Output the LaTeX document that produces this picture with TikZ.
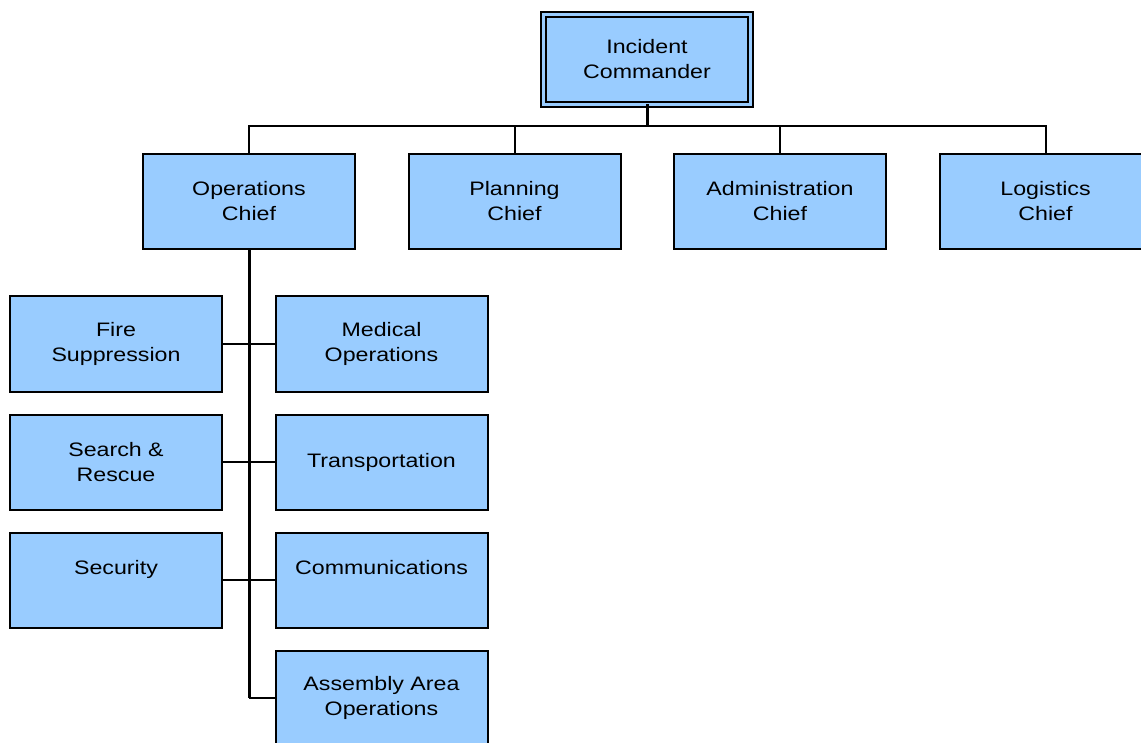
\documentclass[tikz,border=0pt]{standalone}
\usepackage{fontspec}
\setmainfont{Liberation Sans}[FakeStretch=1.19]
\usetikzlibrary{positioning}
\definecolor{boxblue}{HTML}{99CCFF}

\begin{document}
\begin{tikzpicture}[x=1pt, y=1pt,
    box/.style={draw, fill=boxblue, line width=2pt, minimum width=212pt,
      minimum height=95pt, inner sep=0pt, outer sep=0pt, align=center,
      font=\fontsize{19.5}{25}\selectfont},
    link/.style={line width=2pt},
    trunk/.style={line width=3pt}]
      \useasboundingbox (0,0) rectangle (1141,-743);
      \node (IC) [box, double=boxblue, double distance=3pt, line width=1.8pt,
        minimum width=207pt, minimum height=90pt] at (647,-59.5) {Incident\\Commander};
      \node (OC) [box] at (249,-201.5) {Operations\\Chief};
      \node (PC) [box, right=53.5pt of OC] {Planning\\Chief};
      \node (AC) [box, right=53.5pt of PC] {Administration\\Chief};
      \node (LC) [box, right=53.5pt of AC] {Logistics\\Chief};
      \node (FS) [box] at (116,-344) {Fire\\Suppression};
      \node (MO) [box] at (381.5,-344) {Medical\\Operations};
      \node (SR) [box, below=23pt of FS] {Search \&\\Rescue};
      \node (TR) [box, below=23pt of MO] {Transportation};
      \node (SE) [box, below=23pt of SR] {Security\\\mbox{}};
      \node (CO) [box, below=23pt of TR] {Communications\\\mbox{}};
      \node (AA) [box, below=23pt of CO] {Assembly Area\\Operations};
      \coordinate (bus) at (647,-126);
      \draw[trunk] (IC.south) to (bus);
      \draw[link] (OC.north) |- (bus) -| (LC.north);
      \draw[link] (PC.north) to (PC.north |- bus);
      \draw[link] (AC.north) to (AC.north |- bus);
      \draw[trunk] (OC.south) to (OC.south |- AA.west);
      \draw[link] (FS.east) to (MO.west);
      \draw[link] (SR.east) to (TR.west);
      \draw[link] (SE.east) to (CO.west);
      \draw[link] (OC.south |- AA.west) to (AA.west);
    \end{tikzpicture}
\end{document}
